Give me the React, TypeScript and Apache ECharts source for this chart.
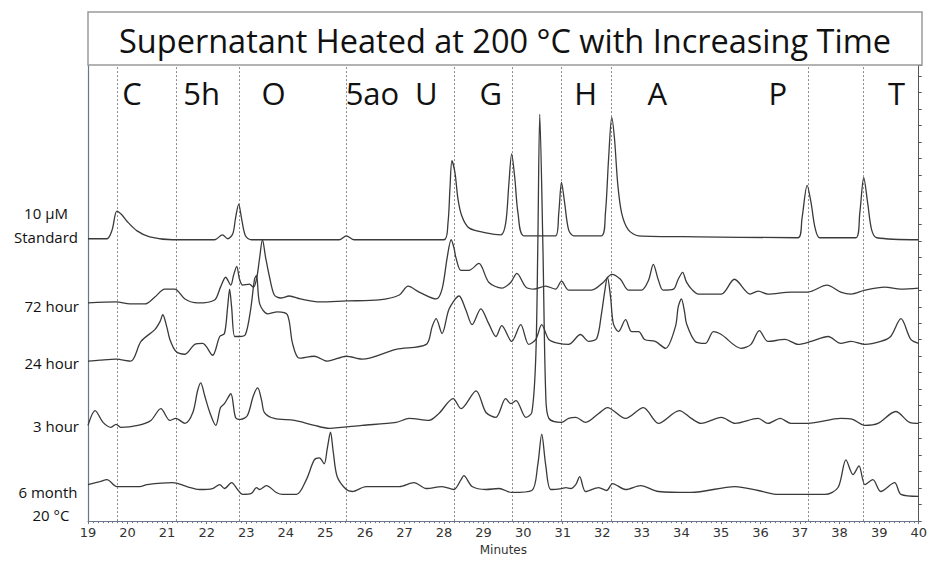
import React, { useEffect, useRef } from "react";
import * as echarts from "echarts";

const TITLE = "Supernatant Heated at 200 °C with Increasing Time";
const X_NAME = "Minutes";
const PEAK_NAMES = ["C", "5h", "O", "5ao", "U", "G", "H", "A", "P", "T"];
const PEAK_LABEL_TIMES = [20.11, 21.87, 23.69, 26.19, 27.55, 29.18, 31.58, 33.39, 36.44, 39.44];
const PEAK_LINE_TIMES = [19.73, 21.22, 22.82, 25.52, 28.27, 29.72, 30.96, 32.23, 37.2, 38.61];
const ROW_LABELS = ["10 µM", "Standard", "72 hour", "24 hour", "3 hour", "6 month", "20 °C"];

const STANDARD: [number, number][] = [
  [19.0, 286], [19.48, 286], [19.61, 295], [19.73, 314], [19.86, 310], [19.98, 304], [20.24, 294],
  [20.56, 288], [21.14, 285], [22.2, 285], [22.4, 290], [22.53, 286], [22.66, 291], [22.73, 307],
  [22.81, 321], [22.88, 307], [22.98, 289], [23.13, 285], [25.35, 285], [25.53, 289], [25.73, 285],
  [28.0, 285], [28.1, 302], [28.15, 337], [28.2, 365], [28.28, 352], [28.35, 327], [28.45, 309],
  [28.63, 297], [29.06, 292], [29.44, 290], [29.56, 302], [29.64, 342], [29.71, 372], [29.79, 347],
  [29.87, 312], [30.02, 289], [30.82, 289], [30.9, 312], [30.97, 343], [31.05, 322], [31.15, 295],
  [31.28, 289], [31.98, 289], [32.08, 312], [32.16, 367], [32.24, 409], [32.31, 387], [32.39, 342],
  [32.49, 312], [32.66, 295], [32.92, 289], [34.43, 288], [36.95, 287], [37.05, 307], [37.18, 340],
  [37.28, 322], [37.38, 297], [37.5, 287], [38.41, 287], [38.51, 312], [38.61, 348], [38.71, 322],
  [38.81, 295], [38.94, 287], [40.0, 285],
];

const H72: [number, number][] = [
  [19.0, 221], [19.71, 222], [20.06, 220], [20.44, 220], [20.69, 227], [20.94, 235], [21.19, 235],
  [21.45, 225], [21.77, 221], [22.2, 224], [22.35, 237], [22.48, 247], [22.61, 239], [22.68, 249],
  [22.76, 258], [22.83, 245], [22.91, 239], [23.08, 240], [23.18, 237], [23.26, 245], [23.34, 267],
  [23.41, 285], [23.49, 267], [23.59, 247], [23.71, 229], [23.87, 226], [24.09, 228], [24.37, 225],
  [24.87, 222], [25.53, 223], [26.36, 224], [26.87, 229], [27.09, 238], [27.37, 232], [27.8, 225],
  [27.95, 235], [28.08, 267], [28.18, 285], [28.25, 277], [28.3, 267], [28.43, 254], [28.63, 254],
  [28.88, 261], [29.13, 242], [29.46, 236], [29.69, 242], [29.84, 251], [30.07, 237], [30.27, 235],
  [30.57, 238], [30.82, 235], [30.97, 243], [31.15, 234], [31.73, 234], [32.03, 242], [32.24, 250],
  [32.46, 245], [32.66, 234], [32.99, 234], [33.17, 244], [33.29, 260], [33.42, 244], [33.54, 234],
  [33.8, 235], [33.92, 245], [34.03, 252], [34.13, 242], [34.28, 234], [34.43, 230], [35.01, 230],
  [35.34, 245], [35.74, 230], [35.94, 233], [36.19, 230], [36.77, 232], [37.2, 232], [37.68, 239],
  [38.03, 232], [38.29, 230], [38.64, 234], [39.14, 237], [39.55, 235], [40.0, 236],
];

const H24: [number, number][] = [
  [19.0, 162], [19.3, 163], [19.71, 164], [20.08, 162], [20.34, 182], [20.69, 194], [20.82, 202],
  [20.89, 209], [20.99, 197], [21.07, 184], [21.22, 172], [21.45, 169], [21.7, 179], [21.9, 180],
  [22.15, 168], [22.33, 187], [22.45, 190], [22.53, 217], [22.58, 235], [22.63, 217], [22.71, 187],
  [22.83, 187], [22.98, 189], [23.11, 214], [23.21, 245], [23.26, 249], [23.34, 220], [23.54, 210],
  [23.79, 212], [24.04, 209], [24.17, 180], [24.34, 165], [24.72, 167], [25.05, 162], [25.53, 167],
  [25.93, 164], [26.79, 174], [27.55, 179], [27.7, 197], [27.8, 205], [27.95, 190], [28.13, 215],
  [28.38, 228], [28.55, 214], [28.71, 199], [28.93, 215], [29.13, 200], [29.31, 187], [29.46, 198],
  [29.71, 182], [29.94, 199], [30.14, 179], [30.32, 184], [30.47, 199], [30.65, 184], [30.9, 180],
  [31.15, 179], [31.45, 189], [31.66, 182], [31.86, 185], [31.98, 210], [32.06, 232], [32.13, 247],
  [32.21, 227], [32.28, 200], [32.41, 192], [32.59, 204], [32.74, 192], [32.92, 192], [33.07, 184],
  [33.34, 182], [33.6, 175], [33.85, 197], [33.92, 217], [34.0, 225], [34.08, 212], [34.13, 200],
  [34.35, 182], [34.61, 180], [34.81, 192], [35.01, 189], [35.51, 175], [35.76, 179], [35.97, 193],
  [36.19, 182], [36.62, 184], [36.95, 179], [37.28, 182], [37.71, 187], [38.03, 180], [38.29, 182],
  [38.64, 179], [39.04, 182], [39.29, 187], [39.55, 205], [39.8, 184], [40.0, 180],
];

const H3: [number, number][] = [
  [19.0, 97], [19.18, 112], [19.38, 100], [19.58, 95], [19.71, 98], [19.83, 95], [20.26, 97],
  [20.59, 102], [20.84, 114], [21.07, 102], [21.22, 104], [21.45, 99], [21.65, 110], [21.77, 132],
  [21.85, 140], [21.95, 127], [22.08, 110], [22.23, 97], [22.35, 115], [22.45, 119], [22.61, 129],
  [22.73, 105], [22.86, 103], [23.03, 107], [23.18, 127], [23.29, 135], [23.39, 122], [23.46, 110],
  [23.71, 104], [24.22, 102], [24.72, 97], [25.1, 94], [25.93, 97], [26.79, 100], [27.12, 104],
  [27.62, 102], [27.87, 109], [28.23, 124], [28.43, 114], [28.81, 132], [29.06, 110], [29.31, 105],
  [29.56, 124], [29.69, 119], [29.82, 122], [30.07, 105], [30.22, 110], [30.32, 167], [30.37, 277],
  [30.42, 412], [30.5, 277], [30.57, 130], [30.65, 104], [30.97, 100], [31.15, 104], [31.33, 105],
  [31.58, 100], [31.91, 109], [32.13, 115], [32.59, 104], [33.04, 115], [33.42, 99], [33.95, 112],
  [34.25, 104], [34.5, 99], [35.01, 105], [35.36, 99], [35.94, 104], [36.19, 99], [36.5, 104],
  [36.77, 99], [37.2, 99], [38.03, 104], [38.33, 103], [38.64, 97], [38.97, 99], [39.42, 111],
  [39.77, 100], [40.0, 99],
];

const M6: [number, number][] = [
  [19.0, 37], [19.3, 40], [19.48, 42], [19.73, 35], [20.31, 35], [20.49, 37], [21.14, 39],
  [21.5, 35], [21.82, 32], [22.15, 33], [22.33, 37], [22.45, 33], [22.63, 39], [22.78, 32],
  [22.91, 27], [23.13, 28], [23.26, 34], [23.34, 32], [23.51, 36], [23.76, 29], [23.92, 27],
  [24.27, 27], [24.52, 42], [24.72, 62], [24.85, 64], [24.97, 58], [25.05, 74], [25.13, 90],
  [25.2, 70], [25.3, 45], [25.53, 32], [25.68, 30], [26.03, 35], [26.87, 35], [27.24, 39],
  [27.55, 33], [27.95, 35], [28.25, 32], [28.43, 42], [28.5, 46], [28.71, 35], [29.06, 32],
  [29.39, 33], [29.71, 29], [30.22, 31], [30.37, 57], [30.47, 88], [30.57, 57], [30.7, 32],
  [30.97, 33], [31.08, 34], [31.2, 33], [31.33, 37], [31.43, 45], [31.58, 30], [31.91, 34],
  [32.11, 31], [32.26, 38], [32.59, 32], [32.97, 36], [33.42, 30], [34.25, 29], [35.36, 35],
  [35.94, 31], [36.44, 27], [37.63, 27], [37.96, 34], [38.16, 62], [38.34, 47], [38.49, 56],
  [38.64, 37], [38.84, 42], [39.04, 30], [39.39, 39], [39.55, 27], [40.0, 25],
];

const TRACES = [STANDARD, H72, H24, H3, M6];
const LABEL_LEVEL = 434;

export default function App() {
  const ref = useRef<HTMLDivElement>(null);
  useEffect(() => {
    const chart = echarts.init(ref.current!, null, { renderer: "svg" });
    const axisBlue = "#6b7590";
    const traceStyle = { color: "#3a3a3a", width: 1.3 };
    const series: any[] = TRACES.map((d, i) => ({
      type: "line",
      data: d,
      showSymbol: false,
      smooth: 0.3,
      lineStyle: traceStyle,
      silent: true,
      z: 3,
      markLine:
        i === 0
          ? {
              silent: true,
              symbol: "none",
              label: { show: false },
              lineStyle: { type: [2, 2], color: "#8a8a8a", width: 1 },
              data: PEAK_LINE_TIMES.map((t) => ({ xAxis: t })),
              z: 1,
            }
          : undefined,
    }));
    series.push({
      type: "scatter",
      data: PEAK_LABEL_TIMES.map((t, i) => ({ value: [t, LABEL_LEVEL], name: PEAK_NAMES[i] })),
      symbolSize: 1,
      itemStyle: { color: "rgba(0,0,0,0)", opacity: 1 },
      silent: true,
      z: 5,
      label: {
        show: true,
        position: "inside",
        formatter: "{b}",
        fontFamily: "Open Sans",
        fontSize: 31,
        color: "#111",
        opacity: 1,
        textBorderWidth: 0,
      },
      labelLayout: { hideOverlap: false },
    });
    const rowFont = "15px 'Open Sans'";
    const rowPos = [
      [46, 213, "center"],
      [46, 237, "center"],
      [79, 306, "right"],
      [79, 363, "right"],
      [79, 426, "right"],
      [48, 492, "center"],
      [51, 515, "center"],
    ];
    const graphics: any[] = [
      {
        type: "rect",
        shape: { x: 88, y: 12, width: 834, height: 53 },
        style: { fill: "#fff", stroke: "#9a9a9a", lineWidth: 1.5 },
        z: 10,
      },
      {
        type: "text",
        x: 505,
        y: 40,
        style: {
          text: TITLE,
          font: "32.5px 'Open Sans'",
          fill: "#111",
          textAlign: "center",
          textVerticalAlign: "middle",
        },
        z: 11,
      },
      ...ROW_LABELS.map((t, i) => ({
        type: "text",
        x: rowPos[i][0],
        y: rowPos[i][1],
        style: {
          text: t,
          font: rowFont,
          fill: "#111",
          textAlign: rowPos[i][2],
          textVerticalAlign: "middle",
        },
      })),
    ];
    chart.setOption({
      animation: false,
      backgroundColor: "#fff",
      grid: { left: 88, right: 8, top: 65, bottom: 34 },
      xAxis: {
        type: "value",
        min: 19,
        max: 40,
        interval: 1,
        name: X_NAME,
        nameLocation: "middle",
        nameGap: 21,
        nameTextStyle: { fontFamily: "DejaVu Sans", fontSize: 12, color: "#333" },
        axisLine: { show: true, lineStyle: { color: axisBlue, width: 1.2 } },
        axisTick: { show: true, length: 3, lineStyle: { color: axisBlue } },
        minorTick: { show: true, splitNumber: 8, length: 2, lineStyle: { color: axisBlue } },
        axisLabel: { fontFamily: "DejaVu Sans", fontSize: 13, color: "#333", margin: 5 },
        splitLine: { show: false },
      },
      yAxis: [
        {
          type: "value",
          min: 0,
          max: 462,
          axisLine: { show: true, lineStyle: { color: axisBlue, width: 1.2 } },
          axisTick: { show: false },
          axisLabel: { show: false },
          splitLine: { show: false },
        },
        {
          type: "value",
          position: "right",
          min: 0,
          max: 462,
          interval: 16.7,
          axisLine: { show: true, lineStyle: { color: "#555", width: 1 } },
          axisTick: { show: true, length: 3, lineStyle: { color: "#555" } },
          axisLabel: { show: false },
          splitLine: { show: false },
        },
      ],
      series,
      graphic: graphics,
    });
    return () => chart.dispose();
  }, []);
  return (
    <div
      ref={ref}
      style={{ position: "absolute", left: 0, top: 0, width: 930, height: 561 }}
    />
  );
}
